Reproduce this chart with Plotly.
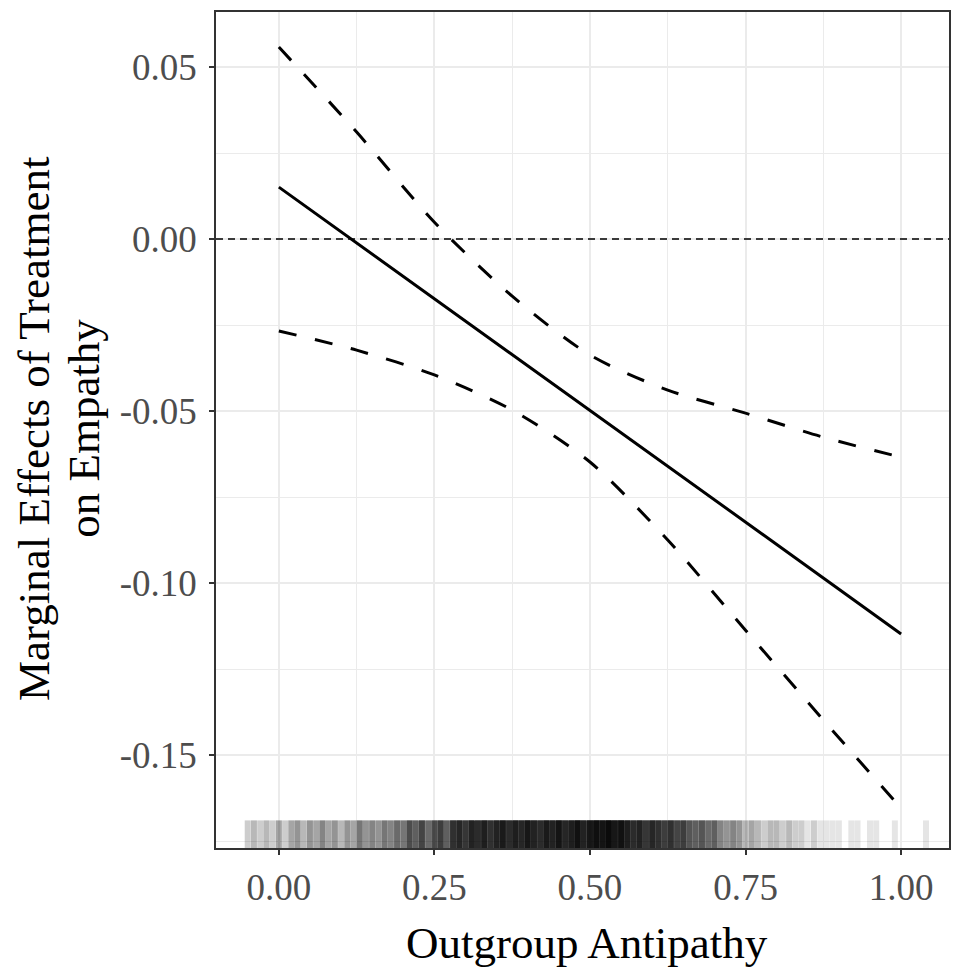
import plotly.graph_objects as go

# ---- data ----
x_grid = [0.0, 0.125, 0.25, 0.375, 0.5, 0.625, 0.75, 0.875, 1.0]
effect = [0.0151, -0.0011, -0.0173, -0.0335, -0.0497, -0.0659, -0.0822, -0.0985, -0.1148]
upper = [0.0558, 0.0311, 0.0049, -0.0166, -0.0337, -0.0439, -0.0506, -0.0576, -0.0634]
lower = [-0.0267, -0.0323, -0.0395, -0.0497, -0.0648, -0.0875, -0.1137, -0.1398, -0.1654]

# rug: positions (step 0.01 from -0.05 to 1.05) and number of observations at each
rug_pos = [round(-0.05 + 0.01 * i, 2) for i in range(111)]
rug_counts = [
    2, 3, 2, 3, 2,            # -0.05 .. -0.01
    4, 2, 4, 5, 3, 5, 4, 6, 4, 5,      # 0.00 .. 0.09
    3, 5, 4, 7, 5, 6, 5, 7, 6, 8,      # 0.10 .. 0.19
    7, 11, 9, 12, 8, 11, 13, 9, 15, 17,  # 0.20 .. 0.29
    14, 18, 16, 19, 15, 18, 20, 16, 19, 17,  # 0.30 .. 0.39
    21, 18, 16, 20, 18, 22, 17, 19, 23, 18,  # 0.40 .. 0.49
    21, 24, 22, 26, 21, 23, 19, 16, 18, 14,  # 0.50 .. 0.59
    17, 15, 13, 15, 12, 13, 10, 9, 10, 8,    # 0.60 .. 0.69
    9, 6, 5, 6, 5, 3, 4, 3, 2, 3,            # 0.70 .. 0.79
    3, 2, 3, 2, 2, 1, 2, 1, 1, 1,            # 0.80 .. 0.89
    1, 0, 1, 1, 0, 1, 1, 0, 0, 1,            # 0.90 .. 0.99
    0, 0, 0, 0, 1, 0,                        # 1.00 .. 1.05
]

x_ticks = [0.0, 0.25, 0.5, 0.75, 1.0]
x_ticklabels = ["0.00", "0.25", "0.50", "0.75", "1.00"]
y_ticks = [0.05, 0.0, -0.05, -0.10, -0.15]
y_ticklabels = ["0.05", "0.00", "-0.05", "-0.10", "-0.15"]
x_minor = [0.125, 0.375, 0.625, 0.875]
y_minor = [0.025, -0.025, -0.075, -0.125, -0.175]

x_title = "Outgroup Antipathy"
y_title_lines = ["Marginal Effects of Treatment", "on Empathy"]

FONT = "Liberation Serif"
GRID = "#EBEBEB"
DARK = "#333333"
TICK_SIZE = 37
TITLE_SIZE = 45

rug_x = []
for p, c in zip(rug_pos, rug_counts):
    rug_x.extend([p] * c)

fig = go.Figure()

fig.add_trace(go.Scatter(
    x=rug_x, y=[0.01376] * len(rug_x), yaxis="y2", mode="markers",
    marker=dict(symbol="line-ns", size=23,
                line=dict(color="rgba(0,0,0,0.1)", width=6)),
    hoverinfo="skip", showlegend=False,
))

fig.add_trace(go.Scatter(
    x=x_grid, y=upper, mode="lines",
    line=dict(color="black", width=3, dash="18px,19px", shape="spline", smoothing=0.8),
    showlegend=False,
))
fig.add_trace(go.Scatter(
    x=x_grid, y=lower, mode="lines",
    line=dict(color="black", width=3, dash="18px,19px", shape="spline", smoothing=0.8),
    showlegend=False,
))
fig.add_trace(go.Scatter(
    x=x_grid, y=effect, mode="lines",
    line=dict(color="black", width=3),
    showlegend=False,
))

fig.add_shape(type="line", xref="x domain", x0=0, x1=1, yref="y", y0=0, y1=0,
              line=dict(color="black", width=1.6, dash="7px,5px"), layer="above")

PLOT_L, PLOT_W = 216, 735
title_x_px = [34, 84]
annotations = [
    dict(text=x_title, xref="paper", yref="paper", x=0.5068, y=-0.1136,
         xanchor="center", yanchor="middle", showarrow=False,
         font=dict(family=FONT, size=TITLE_SIZE, color="black")),
]
for line, px in zip(y_title_lines, title_x_px):
    annotations.append(dict(
        text=line, xref="paper", yref="paper", x=(px - PLOT_L) / PLOT_W, y=0.5018,
        xanchor="center", yanchor="middle", showarrow=False, textangle=-90,
        font=dict(family=FONT, size=TITLE_SIZE, color="black")))

fig.update_layout(
    width=954, height=974,
    margin=dict(l=216, r=3, t=12, b=126),
    paper_bgcolor="white", plot_bgcolor="white",
    font=dict(family=FONT, color="#4D4D4D"),
    xaxis=dict(
        range=[-0.101, 1.077], tickvals=x_ticks, ticktext=x_ticklabels,
        showgrid=True, gridcolor=GRID, gridwidth=2.2, zeroline=False,
        minor=dict(tickvals=x_minor, showgrid=True, gridcolor=GRID, gridwidth=1.2, ticks=""),
        showline=True, mirror=True, linecolor=DARK, linewidth=1.6,
        ticks="outside", ticklen=5, tickwidth=1.6, tickcolor=DARK,
        tickfont=dict(family=FONT, size=TICK_SIZE, color="#4D4D4D"),
        ticklabelstandoff=1,
    ),
    yaxis=dict(
        range=[-0.177, 0.066], tickvals=y_ticks, ticktext=y_ticklabels,
        showgrid=True, gridcolor=GRID, gridwidth=2.2, zeroline=False,
        minor=dict(tickvals=y_minor, showgrid=True, gridcolor=GRID, gridwidth=1.2, ticks=""),
        showline=True, mirror=True, linecolor=DARK, linewidth=1.6,
        ticks="outside", ticklen=5, tickwidth=1.6, tickcolor=DARK,
        tickfont=dict(family=FONT, size=TICK_SIZE, color="#4D4D4D"),
        ticklabelstandoff=5,
    ),
    yaxis2=dict(overlaying="y", range=[0, 1], visible=False, fixedrange=True),
    annotations=annotations,
)

fig.write_html("out.html", config={"displayModeBar": False},
               post_script="document.body.style.margin='0';")
